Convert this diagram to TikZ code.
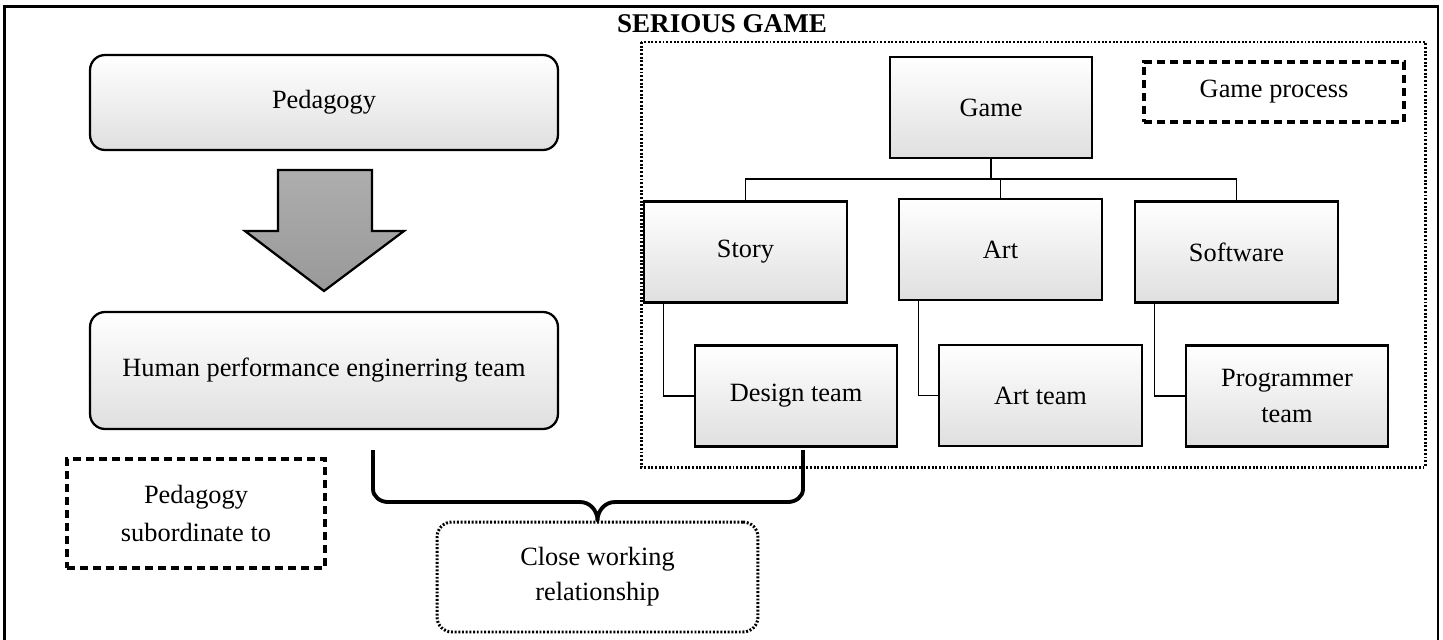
\documentclass[tikz,border=0pt]{standalone}
\usepackage{fontspec}
\setmainfont{Liberation Serif}
\usetikzlibrary{positioning}
\tikzset{x=0.02cm, y=-0.02cm, % one unit is one pixel of the sketch
every node/.style={ % Sets the text of every box
font=\fontsize{15}{20}\selectfont,
align=center, inner sep=0pt},
shadebox/.style={ % Boxes with the white to grey shading
draw, line width=1.3pt,
top color=white, middle color=white, bottom color=gray!25},
roundbox/.style={ % Rounded boxes on the left
shadebox, rounded corners=0.3cm,
minimum width=9.36cm},
teambox/.style={ % Boxes of the game tree
shadebox,
minimum width=4.05cm, minimum height=2.02cm},
dashbox/.style={ % Dashed note boxes
draw, line width=1.9pt,
dash pattern=on 4.6pt off 2.8pt},
dotbox/.style={ % Dotted frames
draw, line width=1.7pt,
dash pattern=on 1.1pt off 1pt},
link/.style={ % Thin tree connectors
draw, line width=0.7pt},
brace/.style={ % The curly bracket
draw, line width=2.2pt, line join=round}}

\begin{document}
\begin{tikzpicture}

    \useasboundingbox (0,0) rectangle (1443,639);
    \draw[line width=1.3pt] (4.5,6.5) rectangle (1438,645);

    % left column
    \node[roundbox, minimum height=1.9cm] (ped) at (324,102.5) {Pedagogy};
    \node[roundbox, minimum height=2.34cm] (hpe) at (324,370.5) {Human performance enginerring team};
    \draw[line width=1.3pt, top color=gray!64, bottom color=gray!80]
        (278,170) -- (372,170) -- (372,231) -- (404,231) -- (324,291)
        -- (245,231) -- (278,231) -- cycle;
    \node[dashbox, minimum width=5.16cm, minimum height=2.18cm,
        font=\fontsize{15}{22}\selectfont] (sub) at (196,513.5) {Pedagogy\\subordinate to};

    % serious game
    \node[font=\fontsize{15.4}{18}\selectfont\bfseries] (title) at (722,24) {SERIOUS GAME};
    \draw[dotbox] (641,42) rectangle (1425,467);
    \node[teambox] (game) at (991,107.5) {Game};
    \node[dashbox, minimum width=5.2cm, minimum height=1.2cm] (proc) at (1274,92) {Game process};

    \node[teambox] (story) at (745.5,252) {Story};
    \node[teambox] (art) at (1000.5,249.5) {Art};
    \node[teambox] (soft) at (1236.5,252) {Software};

    \node[teambox] (design) at (796,396) {Design team};
    \node[teambox] (artteam) at (1040.5,395.5) {Art team};
    \node[teambox] (prog) at (1287,396) {Programmer\\team};

    \coordinate (bus) at (991,179);
    \draw[line width=1.3pt] (game.south) -- (bus);
    \draw[link] (story.north) |- (bus) -| (soft.north);
    \draw[link] (art.north) -- (art.north |- bus);
    \draw[link] ([xshift=0.4cm]story.south west) |- (design.west);
    \draw[link] ([xshift=0.4cm]art.south west) |- (artteam.west);
    \draw[link] ([xshift=0.4cm]soft.south west) |- (prog.west);

    % close working relationship
    \node[dotbox, rounded corners=0.3cm, minimum width=6.42cm, minimum height=2.2cm]
        (close) at (597.5,577) {Close working\\relationship};
    \coordinate (bl) at (373,450);
    \coordinate (br) at (803,450);
    \draw[brace] (bl) -- (373,489) to[out=-90,in=180] (388,502) -- (580,502)
        to[out=0,in=90] (close.north) to[out=90,in=180] (615,502) -- (788,502)
        to[out=0,in=-90] (803,489) -- (br);

\end{tikzpicture}
\end{document}
